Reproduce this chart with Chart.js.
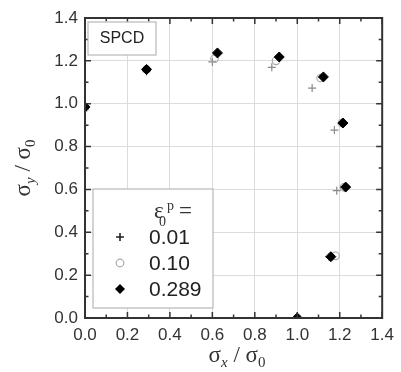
<!DOCTYPE html>
<html><head><meta charset="utf-8">
<script src="https://cdn.jsdelivr.net/npm/chart.js@4.4.1/dist/chart.umd.min.js"></script>
<style>html,body{margin:0;padding:0;background:#fff}#wrap{width:401px;height:372px}</style>
</head><body><div id="wrap"><canvas id="c" width="401" height="372"></canvas></div>
<script>
// Data
const seriesLabels = ["0.01", "0.10", "0.289"];
const x001 = [0.00, 0.29, 0.60, 0.88, 1.07, 1.175, 1.186, 1.15, 1.00];
const y001 = [0.98, 1.15, 1.195, 1.17, 1.073, 0.877, 0.594, 0.285, 0.00];
const x010 = [0.00, 0.29, 0.61, 0.90, 1.11, 1.21, 1.22, 1.18, 1.00];
const y010 = [0.98, 1.16, 1.21, 1.20, 1.12, 0.91, 0.61, 0.29, 0.00];
const x0289 = [0.00, 0.29, 0.624, 0.915, 1.123, 1.215, 1.228, 1.158, 1.00];
const y0289 = [0.985, 1.16, 1.237, 1.218, 1.125, 0.91, 0.611, 0.286, 0.00];
const xTicks = [0.0, 0.2, 0.4, 0.6, 0.8, 1.0, 1.2, 1.4];
const yTicks = [0.0, 0.2, 0.4, 0.6, 0.8, 1.0, 1.2, 1.4];
const boxLabel = "SPCD";

const pts = (xs, ys) => xs.map((x, i) => ({x: x, y: ys[i]}));

const frame = {
  id: 'frame',
  afterDraw(chart) {
    const ctx = chart.ctx, a = chart.chartArea;
    const xs = chart.scales.x, ys = chart.scales.y;
    ctx.save();
    // frame
    ctx.strokeStyle = '#333'; ctx.lineWidth = 2;
    ctx.strokeRect(a.left, a.top, a.right - a.left, a.bottom - a.top);
    // inner ticks
    ctx.lineWidth = 1.5;
    for (let i = 0; i <= 14; i++) {
      const v = i / 10, len = (i % 2 === 0) ? 6 : 3.5;
      const px = xs.getPixelForValue(v), py = ys.getPixelForValue(v);
      ctx.beginPath();
      ctx.moveTo(px, a.bottom); ctx.lineTo(px, a.bottom - len);
      ctx.moveTo(px, a.top); ctx.lineTo(px, a.top + len);
      ctx.moveTo(a.left, py); ctx.lineTo(a.left + len, py);
      ctx.moveTo(a.right, py); ctx.lineTo(a.right - len, py);
      ctx.stroke();
    }
    // SPCD box
    ctx.fillStyle = '#fff'; ctx.strokeStyle = '#b8b8b8'; ctx.lineWidth = 1.2;
    ctx.fillRect(88, 22, 68, 33); ctx.strokeRect(88, 22, 68, 33);
    ctx.fillStyle = '#222'; ctx.font = '16px "Liberation Sans", Arial, sans-serif';
    ctx.textAlign = 'center'; ctx.textBaseline = 'middle';
    ctx.fillText(boxLabel, 122, 39);

    // Legend box
    ctx.fillStyle = '#fff'; ctx.strokeStyle = '#b8b8b8';
    ctx.fillRect(93, 189, 120, 119); ctx.strokeRect(93, 189, 120, 119);
    ctx.fillStyle = '#333';
    ctx.font = '23px "Liberation Serif", serif';
    ctx.textAlign = 'left'; ctx.textBaseline = 'alphabetic';
    ctx.fillText('\u03b5', 154, 218);
    ctx.font = '14px "Liberation Serif", serif';
    ctx.fillText('0', 159, 226);
    ctx.fillText('p', 167, 210);
    ctx.font = '23px "Liberation Serif", serif';
    ctx.fillText('=', 179, 218);
    const ly = [237, 263, 289];
    ctx.font = '21px "Liberation Sans", Arial, sans-serif';
    ctx.textBaseline = 'middle';
    seriesLabels.forEach((t, i) => { ctx.fillStyle = '#222'; ctx.fillText(t, 149, ly[i] + 1); });
    // legend markers
    ctx.strokeStyle = '#222'; ctx.lineWidth = 1.6;
    ctx.beginPath(); ctx.moveTo(116, ly[0]); ctx.lineTo(124, ly[0]); ctx.moveTo(120, ly[0] - 4); ctx.lineTo(120, ly[0] + 4); ctx.stroke();
    ctx.strokeStyle = '#a8a8a8'; ctx.lineWidth = 1.2;
    ctx.beginPath(); ctx.arc(120, ly[1], 3.8, 0, Math.PI * 2); ctx.stroke();
    ctx.fillStyle = '#000';
    ctx.beginPath(); ctx.moveTo(120, ly[2] - 5); ctx.lineTo(125, ly[2]); ctx.lineTo(120, ly[2] + 5); ctx.lineTo(115, ly[2]); ctx.closePath(); ctx.fill();

    // axis titles with subscripts
    const drawTitle = (sub, cx, cy, rot) => {
      ctx.save();
      ctx.translate(cx, cy); ctx.rotate(rot);
      ctx.fillStyle = '#333'; ctx.textBaseline = 'alphabetic'; ctx.textAlign = 'left';
      const big = '23px "Liberation Serif", serif';
      const subItal = 'italic 15px "Liberation Serif", serif';
      const subN = '15px "Liberation Serif", serif';
      const parts = [['\u03c3', big, 0], [sub, subItal, 5], [' / ', big, 0], ['\u03c3', big, 0], ['0', subN, 5]];
      let w = 0;
      parts.forEach(p => { ctx.font = p[1]; w += ctx.measureText(p[0]).width; });
      let x = -w / 2;
      parts.forEach(p => { ctx.font = p[1]; ctx.fillText(p[0], x, 6 + p[2]); x += ctx.measureText(p[0]).width; });
      ctx.restore();
    };
    drawTitle('x', 237, 356, 0);
    drawTitle('y', 24, 168, -Math.PI / 2);
    ctx.restore();
  }
};

new Chart(document.getElementById('c'), {
  type: 'scatter',
  data: {
    datasets: [
      { label: seriesLabels[2], data: pts(x0289, y0289), pointStyle: 'rectRot', pointRadius: 5,
        backgroundColor: '#000', borderColor: '#000', borderWidth: 1, order: 0 },
      { label: seriesLabels[1], data: pts(x010, y010), pointStyle: 'circle', pointRadius: 3.8,
        backgroundColor: 'rgba(255,255,255,0)', borderColor: '#a8a8a8', borderWidth: 1.1, order: 1 },
      { label: seriesLabels[0], data: pts(x001, y001), pointStyle: 'cross', pointRadius: 4,
        borderColor: '#8a8a8a', borderWidth: 1.2, order: 2 }
    ]
  },
  options: {
    responsive: false, animation: false, devicePixelRatio: 1,
    layout: { padding: { left: 0, right: 13, top: 18, bottom: 0 } },
    plugins: { legend: { display: false }, tooltip: { enabled: false } },
    scales: {
      x: { type: 'linear', min: 0, max: 1.4,
        afterBuildTicks: s => { s.ticks = xTicks.map(v => ({ value: v })); },
        afterFit: s => { s.height = 54; },
        grid: { color: '#dcdcdc', lineWidth: 1, drawTicks: false },
        border: { display: false },
        ticks: { padding: 7, color: '#333', font: { family: '"Liberation Sans", Arial, sans-serif', size: 17 },
          maxRotation: 0, callback: v => Number(v).toFixed(1) } },
      y: { type: 'linear', min: 0, max: 1.4,
        afterBuildTicks: s => { s.ticks = yTicks.map(v => ({ value: v })); },
        afterFit: s => { s.width = 85; },
        grid: { color: '#dcdcdc', lineWidth: 1, drawTicks: false },
        border: { display: false },
        ticks: { padding: 7, color: '#333', font: { family: '"Liberation Sans", Arial, sans-serif', size: 17 },
          callback: v => Number(v).toFixed(1) } }
    }
  },
  plugins: [frame]
});
</script></body></html>
